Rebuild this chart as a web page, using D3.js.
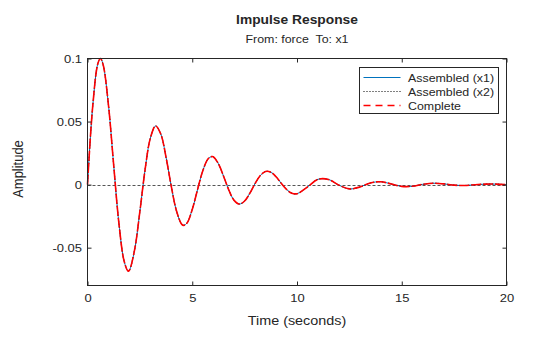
<!DOCTYPE html>
<html>
<head>
<meta charset="utf-8">
<script src="https://cdn.jsdelivr.net/npm/d3@7"></script>
<style>
  html, body { margin: 0; padding: 0; background: #fff; }
  svg { display: block; }
  text { font-family: "Liberation Sans", Arial, Helvetica, sans-serif; fill: #262626; white-space: pre; }
</style>
</head>
<body>
<svg id="chart" width="560" height="337"></svg>
<script>
// Impulse response samples: time (s) and amplitude
const timeSec = [0, 0.25, 0.5, 0.62, 0.75, 1.0, 1.25, 1.5, 1.75, 1.94, 2.0, 2.25, 2.5, 2.75,
  3.0, 3.25, 3.5, 3.75, 4.0, 4.25, 4.5, 4.6, 4.75, 5.0, 5.25, 5.5, 5.75, 5.92, 6.0, 6.25,
  6.5, 6.75, 7.0, 7.25, 7.5, 7.75, 8.0, 8.25, 8.5, 8.75, 9.0, 9.25, 9.5, 9.75, 10.0,
  10.5, 11.0, 11.5, 12.0, 12.5, 13.0, 13.5, 14.0, 14.5, 15.0, 15.5, 16.0, 16.5, 17.0,
  17.5, 18.0, 18.5, 19.0, 19.5, 20.0];
const responseX1 = [0, 0.0623, 0.0963, 0.1000, 0.0948, 0.0631, 0.0154, -0.0308, -0.0608, -0.0686, -0.0679, -0.0516, -0.0213, 0.0120,
  0.0368, 0.0465, 0.0400, 0.0216, -0.0014, -0.0210, -0.0315, -0.0323, -0.0305, -0.0197, -0.0041, 0.0108, 0.0203, 0.0222, 0.0221, 0.0165,
  0.0064, -0.0045, -0.0125, -0.0154, -0.0130, -0.0068, 0.0009, 0.0072, 0.0104, 0.0098, 0.0062, 0.0010, -0.0038, -0.0068, -0.0072,
  -0.0019, 0.0042, 0.0041, -0.0004, -0.0034, -0.0019, 0.0013, 0.0023, 0.0005, -0.0014, -0.0013, 0.0002, 0.0011, 0.0006,
  -0.0004, -0.0007, -0.0001, 0.0004, 0.0004, -0.0001];
// The assembled model's second output and the complete model trace the same response
const responseX2 = responseX1.slice();
const responseComplete = responseX1.slice();

const seriesNames = ["Assembled (x1)", "Assembled (x2)", "Complete"];
const xTicks = [0, 5, 10, 15, 20];
const yTicks = [-0.05, 0, 0.05, 0.1];
const yTickLabels = ["-0.05", "0", "0.05", "0.1"];
const xDomain = [0, 20];
const yDomain = [-0.08, 0.1];

const styles = [
  { color: "#0072BD", width: 1, dash: null, legendWidth: 1.2, legendDash: null },
  { color: "#000000", width: 1, dash: "1,2", legendWidth: 1, legendDash: "1,2" },
  { color: "#FF0000", width: 1.6, dash: "10,2", legendWidth: 1.4, legendDash: "7,5" }
];
const seriesValues = [responseX1, responseX2, responseComplete];

const svg = d3.select("#chart");
const L = 87.5, R = 506.5, T = 58.5, B = 285.5;
const x = d3.scaleLinear().domain(xDomain).range([L, R]);
const y = d3.scaleLinear().domain(yDomain).range([B, T]);
const SY = 0.9;  // vertical text squeeze

const axisColor = "#262626";

// dotted steady-state line at zero
svg.append("line")
  .attr("x1", x(xDomain[0])).attr("x2", x(xDomain[1]))
  .attr("y1", Math.round(y(0)) + 0.5).attr("y2", Math.round(y(0)) + 0.5)
  .attr("stroke", "#555555").attr("stroke-width", 1)
  .attr("stroke-dasharray", "3,2");

// response curves
const line = d3.line().x(d => x(d[0])).y(d => y(d[1])).curve(d3.curveCatmullRom.alpha(0.5));
seriesValues.forEach((vals, i) => {
  const pts = timeSec.map((t, k) => [t, vals[k]]);
  svg.append("path")
    .datum(pts)
    .attr("d", line)
    .attr("fill", "none")
    .attr("stroke", styles[i].color)
    .attr("stroke-width", styles[i].width)
    .attr("stroke-dasharray", styles[i].dash);
});

// axes with inward ticks on all four sides
function styleAxis(g) {
  g.select(".domain").remove();
  g.selectAll(".tick line").attr("stroke", axisColor);
  g.attr("font-family", null).attr("font-size", null);
}
const gBottom = svg.append("g").attr("transform", `translate(0,${B})`)
  .call(d3.axisBottom(x).tickValues(xTicks).tickSizeInner(-4).tickSizeOuter(0).tickFormat(d3.format("d")))
  .call(styleAxis);
gBottom.selectAll(".tick text")
  .attr("y", null).attr("dy", null)
  .attr("transform", `translate(0,${302 - B}) scale(1,${SY})`)
  .style("font-size", "13px").attr("fill", axisColor);

svg.append("g").attr("transform", `translate(0,${T})`)
  .call(d3.axisTop(x).tickValues(xTicks).tickSizeInner(-4).tickSizeOuter(0).tickFormat(""))
  .call(styleAxis);

const gLeft = svg.append("g").attr("transform", `translate(${L},0)`)
  .call(d3.axisLeft(y).tickValues(yTicks).tickSizeInner(-4).tickSizeOuter(0)
    .tickFormat((d, i) => yTickLabels[i]))
  .call(styleAxis);
gLeft.selectAll(".tick text")
  .attr("x", null).attr("dy", null)
  .attr("text-anchor", "end")
  .attr("transform", `translate(-5.5,4.2) scale(1,${SY})`)
  .style("font-size", "13px").attr("fill", axisColor);

svg.append("g").attr("transform", `translate(${R},0)`)
  .call(d3.axisRight(y).tickValues(yTicks).tickSizeInner(-4).tickSizeOuter(0).tickFormat(""))
  .call(styleAxis);

// axes box
svg.append("rect")
  .attr("x", L).attr("y", T).attr("width", R - L).attr("height", B - T)
  .attr("fill", "none").attr("stroke", axisColor).attr("stroke-width", 1);

// titles and labels
function label(txt, px, py, size, opts = {}) {
  const t = svg.append("text")
    .attr("transform", `translate(${px},${py})` + (opts.rotate ? ` rotate(-90) scale(${SY},1)` : ` scale(1,${SY})`))
    .attr("text-anchor", opts.anchor || "middle")
    .style("font-size", size + "px")
    .text(txt);
  if (opts.bold) t.style("font-weight", "bold");
  return t;
}
const cx = (L + R) / 2;
label("Impulse Response", cx, 24, 13.8, { bold: true });
label("From: force  To: x1", cx, 42.5, 12.4);
label("Time (seconds)", cx, 324.5, 14.4);
label("Amplitude", 23, (T + B) / 2 - 3, 14.4, { rotate: true });

// legend
const lg = svg.append("g");
lg.append("rect")
  .attr("x", 359.5).attr("y", 67.5).attr("width", 139).attr("height", 46)
  .attr("fill", "#fff").attr("stroke", axisColor).attr("stroke-width", 1);
const rowY = [77.5, 91.5, 105.5];
seriesNames.forEach((name, i) => {
  lg.append("line")
    .attr("x1", 363.5).attr("x2", 400.5)
    .attr("y1", rowY[i]).attr("y2", rowY[i])
    .attr("stroke", styles[i].color)
    .attr("stroke-width", styles[i].legendWidth)
    .attr("stroke-dasharray", styles[i].legendDash);
  lg.append("text")
    .attr("transform", `translate(408,${rowY[i] + 4}) scale(1,${SY})`)
    .style("font-size", "12.4px")
    .text(name);
});
</script>
</body>
</html>
